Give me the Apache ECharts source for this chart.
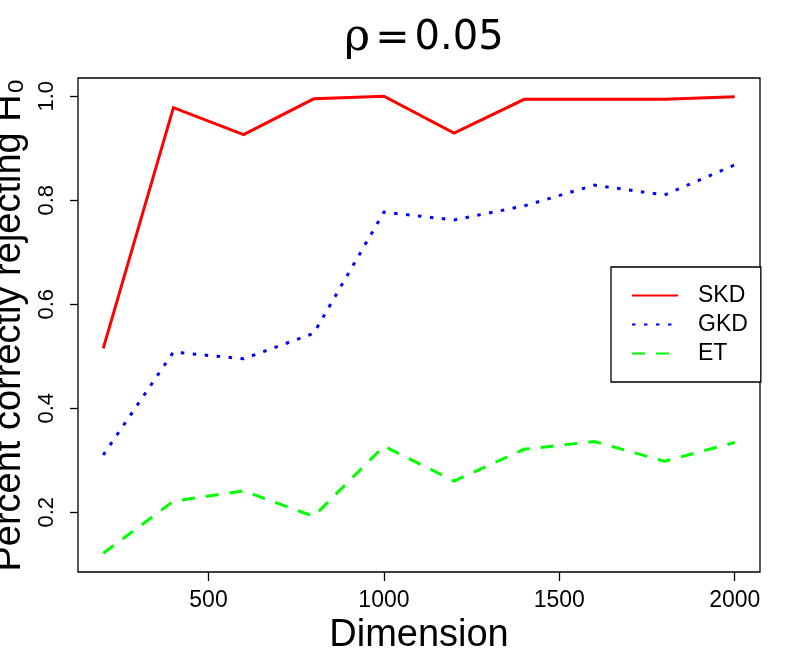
<!DOCTYPE html>
<html>
<head>
<meta charset="utf-8">
<script src="https://cdn.jsdelivr.net/npm/echarts@6/dist/echarts.min.js"></script>
<style>
  html, body { margin: 0; padding: 0; background: #fff; }
  #chart { width: 800px; height: 670px; }
</style>
</head>
<body>
<div id="chart"></div>
<script>
// dimensions on the x axis
const dims = [200, 400, 600, 800, 1000, 1200, 1400, 1600, 1800, 2000];
const skd = [0.515, 0.978, 0.926, 0.995, 1.0, 0.929, 0.994, 0.994, 0.994, 0.999];
const gkd = [0.310, 0.508, 0.495, 0.544, 0.777, 0.762, 0.789, 0.829, 0.810, 0.868];
const et = [0.121, 0.221, 0.241, 0.192, 0.327, 0.260, 0.321, 0.336, 0.298, 0.334];
const xTicks = [500, 1000, 1500, 2000];
const yTicks = [0.2, 0.4, 0.6, 0.8, 1.0];

const sans = 'Liberation Sans, Arial, sans-serif';
const chart = echarts.init(document.getElementById('chart'));

const pairs = (ys) => dims.map((d, i) => [d, ys[i]]);

const lineSeries = (name, ys, color, type) => ({
  name,
  type: 'line',
  data: pairs(ys),
  showSymbol: false,
  symbol: 'none',
  animation: false,
  color,
  lineStyle: { color, width: 3, type, cap: 'butt', join: 'miter' }
});

chart.setOption({
  backgroundColor: '#fff',
  animation: false,
  title: {
    text: '{r|ρ} {e|=} {n|0.05}',
    left: 419,
    textAlign: 'center',
    top: 12,
    textStyle: {
      fontWeight: 'normal',
      rich: {
        r: { fontFamily: 'DejaVu Serif, serif', fontSize: 44, color: '#000', fontWeight: 'normal' },
        e: { fontFamily: 'DejaVu Sans, sans-serif', fontSize: 41, color: '#000', fontWeight: 'normal' },
        n: { fontFamily: 'DejaVu Sans, sans-serif', fontSize: 40, color: '#000', fontWeight: 'normal' }
      }
    }
  },
  grid: {
    left: 78,
    right: 40,
    top: 78,
    bottom: 98,
    show: true,
    borderColor: '#000',
    borderWidth: 1.3,
    containLabel: false,
    outerBoundsMode: 'none'
  },
  legend: {
    orient: 'vertical',
    left: 611,
    top: 267,
    padding: [17, 13, 17, 20],
    itemWidth: 46,
    itemHeight: 14,
    itemGap: 6,
    backgroundColor: '#fff',
    borderColor: '#000',
    borderWidth: 1.3,
    borderRadius: 0,
    itemStyle: { opacity: 0 },
    textStyle: { fontFamily: sans, fontSize: 23, color: '#000', padding: [2, 0, 0, 15] },
    data: ['SKD', 'GKD', 'ET']
  },
  xAxis: {
    type: 'value',
    min: 128,
    max: 2072,
    name: 'Dimension',
    nameLocation: 'middle',
    nameGap: 42,
    nameTextStyle: { fontFamily: sans, fontSize: 38, color: '#000' },
    splitLine: { show: false },
    axisLine: { show: false },
    axisTick: {
      show: true, inside: false, length: 9,
      customValues: xTicks,
      lineStyle: { color: '#000', width: 1.3 }
    },
    axisLabel: {
      customValues: xTicks,
      fontFamily: sans, fontSize: 23, color: '#000', margin: 17,
      formatter: (v) => String(v)
    }
  },
  yAxis: {
    type: 'value',
    min: 0.085,
    max: 1.035,
    name: 'Percent correctly rejecting H₀',
    nameLocation: 'middle',
    nameGap: 36,
    nameRotate: 90,
    nameTextStyle: { fontFamily: sans, fontSize: 38, color: '#000' },
    splitLine: { show: false },
    axisLine: { show: false },
    axisTick: {
      show: true, inside: false, length: 8,
      customValues: yTicks,
      lineStyle: { color: '#000', width: 1.3 }
    },
    axisLabel: {
      customValues: yTicks,
      rotate: 90,
      fontFamily: sans, fontSize: 22, color: '#000', margin: 20,
      formatter: (v) => v.toFixed(1)
    }
  },
  series: [
    lineSeries('SKD', skd, '#ff0000', 'solid'),
    lineSeries('GKD', gkd, '#0000ff', [3.5, 8.5]),
    lineSeries('ET', et, '#00ff00', [13, 11])
  ]
});
</script>
</body>
</html>
